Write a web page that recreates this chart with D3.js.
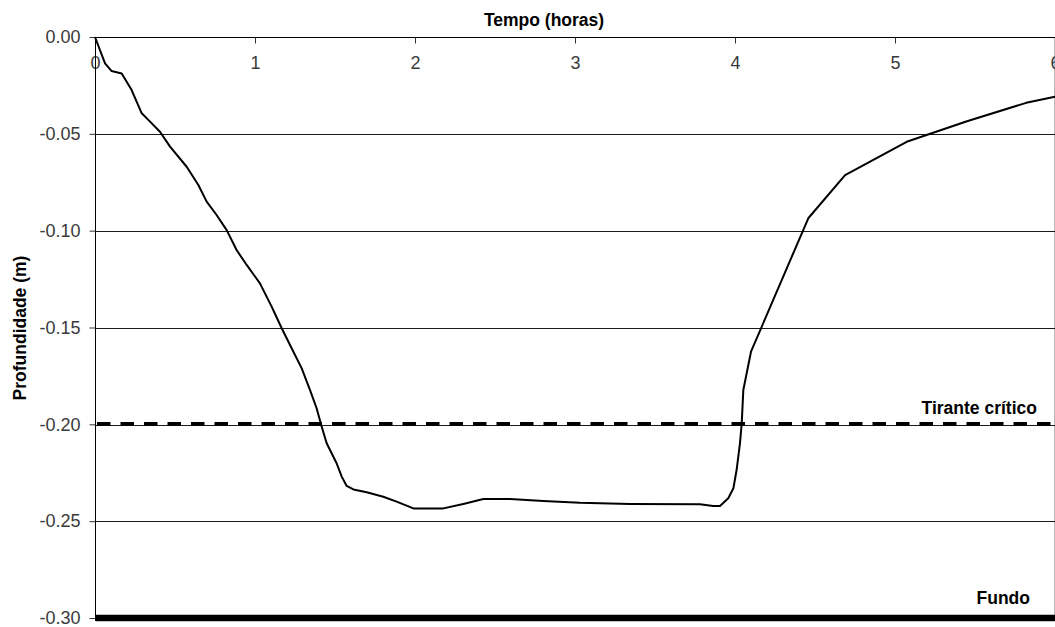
<!DOCTYPE html>
<html>
<head>
<meta charset="utf-8">
<script src="https://cdn.jsdelivr.net/npm/d3@7"></script>
<style>
  html, body { margin: 0; padding: 0; background: #fff; }
  svg { display: block; }
</style>
</head>
<body>
<svg id="chart" width="1055" height="627"></svg>
<script>
// ---- data ----
const timeHours = [0.000, 0.0625, 0.104, 0.167, 0.229, 0.292, 0.344, 0.406, 0.469, 0.573,
  0.646, 0.698, 0.760, 0.823, 0.885, 0.948, 1.031, 1.104, 1.167, 1.229,
  1.292, 1.344, 1.385, 1.417, 1.448, 1.510, 1.542, 1.573, 1.615, 1.698,
  1.802, 1.885, 1.990, 2.177, 2.302, 2.427, 2.594, 2.802, 3.031, 3.344,
  3.781, 3.864, 3.906, 3.958, 3.990, 4.010, 4.031, 4.042, 4.052, 4.100,
  4.458, 4.688, 5.073, 5.450, 5.820, 6.000];
const depthM = [0.000, -0.0136, -0.0176, -0.0188, -0.0274, -0.0394, -0.0437, -0.0489, -0.0566, -0.0670,
  -0.0764, -0.0850, -0.0919, -0.0997, -0.1100, -0.1177, -0.1272, -0.1392, -0.1504, -0.1607,
  -0.1711, -0.1823, -0.1917, -0.2012, -0.2098, -0.2201, -0.2270, -0.2318, -0.2336, -0.2351,
  -0.2374, -0.2399, -0.2434, -0.2434, -0.2411, -0.2386, -0.2386, -0.2396, -0.2405, -0.2411,
  -0.2413, -0.2422, -0.2422, -0.2382, -0.2330, -0.2236, -0.2098, -0.1995, -0.1823, -0.1625,
  -0.0936, -0.0713, -0.0541, -0.0435, -0.0340, -0.0308];
const xTicks = [0, 1, 2, 3, 4, 5, 6];
const yTicks = [0, -0.05, -0.10, -0.15, -0.20, -0.25, -0.30];
const gridValues = [-0.05, -0.10, -0.15, -0.20, -0.25];
const criticalDepth = -0.20;
const bottomDepth = -0.30;
const xTitle = "Tempo (horas)";
const yTitle = "Profundidade (m)";
const criticalLabel = "Tirante crítico";
const bottomLabel = "Fundo";

(function () {
// ---- layout ----
const svg = d3.select("#chart");
const L = 95, R = 1055, T = 37, B = 618;
const x = d3.scaleLinear().domain([0, 6]).range([L, R]);
const y = d3.scaleLinear().domain([0, -0.30]).range([T, B]);
const FONT = "'Liberation Sans', Arial, sans-serif";

// right border of plot area
svg.append("line")
  .attr("x1", R - 0.5).attr("x2", R - 0.5)
  .attr("y1", T).attr("y2", B + 3)
  .attr("stroke", "#b8b8b8").attr("stroke-width", 1);

// gridlines
svg.append("g").selectAll("line").data(gridValues).join("line")
  .attr("x1", L).attr("x2", R)
  .attr("y1", d => Math.round(y(d)) + (d === criticalDepth ? 1.5 : 0.5))
  .attr("y2", d => Math.round(y(d)) + (d === criticalDepth ? 1.5 : 0.5))
  .attr("stroke", "#1a1a1a").attr("stroke-width", 1);

// x axis (top, ticks pointing into plot, labels below)
const xAxis = d3.axisBottom(x).tickValues(xTicks).tickSize(6).tickPadding(13)
  .tickFormat(d3.format("d"));
const gx = svg.append("g").attr("transform", `translate(0,${T + 0.5})`).call(xAxis);
gx.select(".domain").attr("stroke", "#000").attr("d", `M${L},0H${R}`);
gx.selectAll(".tick line").attr("stroke", "#333");
gx.selectAll(".tick text").attr("font-family", FONT).attr("font-size", 18)
  .attr("fill", "#3a3a3a");

// y axis
const yAxis = d3.axisLeft(y).tickValues(yTicks).tickSize(6).tickPadding(9)
  .tickFormat(d => d.toFixed(2));
const gy = svg.append("g").attr("transform", `translate(${L + 0.5},0)`).call(yAxis);
gy.select(".domain").attr("stroke", "#000").attr("d", `M0,${T}V${B + 3}`);
gy.selectAll(".tick line").attr("stroke", "#333");
gy.selectAll(".tick text").attr("font-family", FONT).attr("font-size", 18)
  .attr("fill", "#3a3a3a");

// critical depth dashed line
svg.append("line")
  .attr("x1", L + 2).attr("x2", R)
  .attr("y1", y(criticalDepth) - 0.5).attr("y2", y(criticalDepth) - 0.5)
  .attr("stroke", "#000").attr("stroke-width", 3.6)
  .attr("stroke-dasharray", "13.5,10");

// bottom thick line
svg.append("line")
  .attr("x1", L + 1).attr("x2", R)
  .attr("y1", y(bottomDepth)).attr("y2", y(bottomDepth))
  .attr("stroke", "#000").attr("stroke-width", 6.5);

// series line
const pts = timeHours.map((t, i) => [t, depthM[i]]);
svg.append("path").datum(pts)
  .attr("fill", "none").attr("stroke", "#000").attr("stroke-width", 2)
  .attr("stroke-linejoin", "round")
  .attr("d", d3.line().x(d => x(d[0])).y(d => y(d[1])));

// labels
svg.append("text").attr("x", 544).attr("y", 26)
  .attr("text-anchor", "middle").attr("font-family", FONT)
  .attr("font-size", 17.5).attr("font-weight", "bold").attr("fill", "#000")
  .text(xTitle);

svg.append("text")
  .attr("transform", `translate(26,328) rotate(-90)`)
  .attr("text-anchor", "middle").attr("font-family", FONT)
  .attr("font-size", 17.5).attr("font-weight", "bold").attr("fill", "#000")
  .text(yTitle);

svg.append("text").attr("x", 1037).attr("y", y(criticalDepth) - 10)
  .attr("text-anchor", "end").attr("font-family", FONT)
  .attr("font-size", 17.5).attr("font-weight", "bold").attr("fill", "#000")
  .text(criticalLabel);

svg.append("text").attr("x", 1030).attr("y", y(bottomDepth) - 14)
  .attr("text-anchor", "end").attr("font-family", FONT)
  .attr("font-size", 17.5).attr("font-weight", "bold").attr("fill", "#000")
  .text(bottomLabel);
})();
</script>
</body>
</html>
